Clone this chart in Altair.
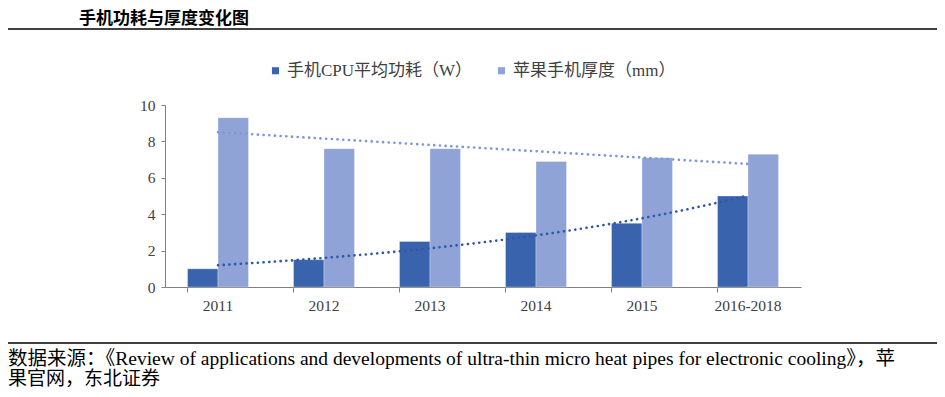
import altair as alt
import pandas as pd

categories = ["2011", "2012", "2013", "2014", "2015", "2016-2018"]
cpu_power = [1.0, 1.5, 2.5, 3.0, 3.5, 5.0]
thickness = [9.3, 7.6, 7.6, 6.9, 7.1, 7.3]
series_names = ["手机CPU平均功耗（W）", "苹果手机厚度（mm）"]
y_ticks = [0, 2, 4, 6, 8, 10]

title_text = "手机功耗与厚度变化图"
footer_line1 = "数据来源：《Review of applications and developments of ultra-thin micro heat pipes for electronic cooling》，苹"
footer_line2 = "果官网，东北证券"

dark = "#3A63AE"
light = "#8FA3D6"
dark_trend = "#2F56A8"
light_trend = "#7D98D8"

rows = []
for i, c in enumerate(categories):
    rows.append({"cat": c, "idx": i + 1, "series": series_names[0], "value": cpu_power[i]})
    rows.append({"cat": c, "idx": i + 1, "series": series_names[1], "value": thickness[i]})
df = pd.DataFrame(rows)

W, H = 636, 182
serif = "Liberation Serif, Noto Sans CJK SC"

yscale = alt.Scale(domain=[0, 10], nice=False)


def y_axis():
    return alt.Axis(values=y_ticks, labelOverlap=False, labelFont=serif, labelFontSize=15.5,
                    labelColor="#404040", domainColor="#808080", tickColor="#808080",
                    tickSize=4, labelPadding=6, grid=False)


bars = alt.Chart(df).mark_bar(stroke="white", strokeWidth=0.6, strokeOpacity=0.5).encode(
    x=alt.X("cat:N", sort=categories, title=None,
            scale=alt.Scale(paddingInner=0.425, paddingOuter=0.2125),
            axis=alt.Axis(labelAngle=0, labelFont=serif, labelFontSize=15.5, labelColor="#404040",
                          domainColor="#808080", tickColor="#808080", tickSize=5,
                          bandPosition=0, labelPadding=6, grid=False)),
    xOffset=alt.XOffset("series:N", sort=series_names, scale=alt.Scale(paddingInner=0, paddingOuter=0)),
    y=alt.Y("value:Q", scale=yscale, title=None, axis=y_axis()),
    color=alt.Color("series:N", sort=series_names,
                    scale=alt.Scale(domain=series_names, range=[dark, light]),
                    legend=alt.Legend(title=None, orient="none", direction="horizontal",
                                      legendX=102, legendY=-43, symbolType="square",
                                      symbolSize=50, symbolStrokeWidth=0,
                                      labelFont=serif, labelFontSize=17, labelColor="#404040",
                                      labelLimit=400, columnPadding=20, labelOffset=3)),
)

xq = alt.Scale(domain=[0.5, 6.5], nice=False, zero=False)

trend_thick = alt.Chart(df).transform_filter(
    alt.datum.series == series_names[1]
).transform_regression("idx", "value", method="linear").mark_line(
    color=light_trend, strokeWidth=2.6, strokeDash=[0.1, 5.6], strokeCap="round"
).encode(
    x=alt.X("idx:Q", scale=xq, axis=None),
    y=alt.Y("value:Q", scale=yscale, title=None, axis=y_axis()),
)

trend_power = alt.Chart(df).transform_filter(
    alt.datum.series == series_names[0]
).transform_regression("idx", "value", method="exp").mark_line(
    color=dark_trend, strokeWidth=2.6, strokeDash=[0.1, 5.6], strokeCap="round"
).encode(
    x=alt.X("idx:Q", scale=xq, axis=None),
    y=alt.Y("value:Q", scale=yscale, title=None, axis=y_axis()),
)

deco = pd.DataFrame({"k": [0]})

title_mark = alt.Chart(deco).mark_text(
    text=title_text, font="Noto Sans CJK SC", fontWeight="bold", fontSize=17,
    align="left", baseline="top", color="#000000"
).encode(x=alt.value(-86), y=alt.value(-94))

top_rule = alt.Chart(deco).mark_rule(color="#000000", strokeWidth=1.5).encode(
    x=alt.value(-157), x2=alt.value(772), y=alt.value(-76))

bottom_rule = alt.Chart(deco).mark_rule(color="#000000", strokeWidth=1.5).encode(
    x=alt.value(-157), x2=alt.value(772), y=alt.value(238))

foot1 = alt.Chart(deco).mark_text(
    text=footer_line1, font=serif, fontSize=19.5, align="left", baseline="middle", color="#000000"
).encode(x=alt.value(-157), y=alt.value(254))

foot2 = alt.Chart(deco).mark_text(
    text=footer_line2, font=serif, fontSize=19, align="left", baseline="middle", color="#000000"
).encode(x=alt.value(-157), y=alt.value(274))

chart = alt.layer(
    bars, trend_thick, trend_power, title_mark, top_rule, bottom_rule, foot1, foot2
).resolve_scale(x="independent").properties(
    width=W, height=H,
    autosize=alt.AutoSizeParams(type="none"),
    padding={"left": 157, "top": 97, "right": 136, "bottom": 102},
).configure(background="white").configure_view(stroke=None)

chart.save("out.html", embed_options={"renderer": "svg", "actions": False})
